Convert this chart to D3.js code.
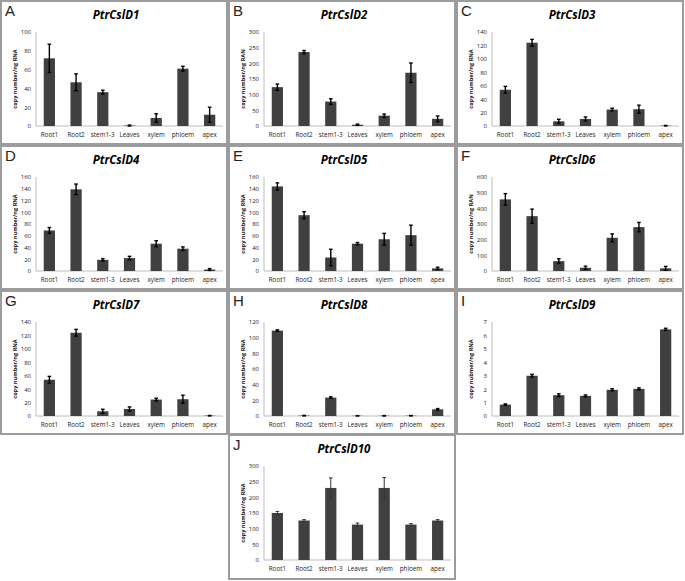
<!DOCTYPE html>
<html><head><meta charset="utf-8">
<script src="https://cdn.jsdelivr.net/npm/d3@7"></script>
<style>body{margin:0;background:#fff}svg{display:block}</style>
</head><body>
<script>
const categories = ["Root1","Root2","stem1-3","Leaves","xylem","phloem","apex"];
const panelLetters = ["A","B","C","D","E","F","G","H","I","J"];
const panelTitles = ["PtrCslD1","PtrCslD2","PtrCslD3","PtrCslD4","PtrCslD5","PtrCslD6","PtrCslD7","PtrCslD8","PtrCslD9","PtrCslD10"];
const yLabels = ["copy number/ng RNA","copy number/ng RAN","copy number/ng RNA","copy number/ng RNA","copy number/ng RNA","copy number/ng RAN","copy number/ng RNA","copy number/ng RNA","copy nubmer/ng RNA","copy number/ng RNA"];
const yMax = [100,300,140,160,160,600,140,120,7,300];
const yStep = [20,50,20,20,20,100,20,20,1,50];
const values = [
  [72,46.5,36,0.5,8.5,61,12],
  [124,236,78,4,33,170,23],
  [54,124,7,10.5,24.5,25,0.5],
  [69,139,19,22,46.5,38,2.5],
  [144,95,23,46.5,54,61,4.5],
  [457,350,63,21,212,280,17],
  [54,124,7,10.5,24.5,25,0.5],
  [109,0.5,23.5,0.3,0.3,0.4,8.5],
  [0.85,3.0,1.55,1.5,1.95,2.02,6.45],
  [150,126,230,113,230,113,126]
];
const errors = [
  [15,9,2,0.5,4.5,2.5,8],
  [10,5,9,2,5,31,9],
  [5,5,3,3,2,6,0.3],
  [5,9,2,3,5,3,1.5],
  [6,6,14,2,10,17,2],
  [37,45,15,10,25,30,12],
  [5,5,3,3,2,6,0.3],
  [1,0.3,1,0.2,0.2,0.2,1],
  [0.05,0.1,0.1,0.07,0.08,0.07,0.08],
  [5,3,32,5,33,3,3]
];
const panelPos = [[1,1],[229,1],[457,1],[1,146],[229,146],[457,146],[1,291],[229,291],[457,291],[229,435]];

const W = 685, H = 581;
const svg = d3.select("body").append("svg").attr("width",W).attr("height",H);
const pw = 226, ph = 143;
const plotL = 35, plotR = 222, plotTop = 31, plotBot = 125;

panelPos.forEach((p,i)=>{
  const g = svg.append("g").attr("transform",`translate(${p[0]},${p[1]})`);
  g.append("rect").attr("x",0).attr("y",0).attr("width",pw).attr("height", i===9?144:ph)
    .attr("fill","#fff").attr("stroke","#9c9c9c").attr("stroke-width",2);
  g.append("text").attr("x",4).attr("y",15).text(panelLetters[i])
    .attr("font-family","Liberation Sans, Arial, sans-serif").attr("font-size",15).attr("fill","#222");
  g.append("text").attr("x",pw/2+2).attr("y",18).attr("text-anchor","middle").text(panelTitles[i])
    .attr("font-family","Open Sans, sans-serif").attr("font-size",11.5).attr("font-weight","bold").attr("font-style","italic").attr("fill","#000");

  const x = d3.scaleBand().domain(categories).range([plotL,plotR]).paddingInner(0.58).paddingOuter(0.29);
  const y = d3.scaleLinear().domain([0,yMax[i]]).range([plotBot,plotTop]);
  const ticks = d3.range(0, yMax[i]+yStep[i]/2, yStep[i]);

  // axes lines
  g.append("line").attr("x1",plotL).attr("x2",plotL).attr("y1",plotTop).attr("y2",plotBot).attr("stroke","#bdbdbd").attr("stroke-width",1);
  g.append("line").attr("x1",plotL).attr("x2",plotR).attr("y1",plotBot).attr("y2",plotBot).attr("stroke","#bdbdbd").attr("stroke-width",1);

  const yAxis = d3.axisLeft(y).tickValues(ticks).tickSize(0).tickPadding(5).tickFormat(d3.format("d"));
  const ya = g.append("g").attr("transform",`translate(${plotL},0)`).call(yAxis);
  ya.select(".domain").remove();
  ya.selectAll("text").attr("font-family","Open Sans, sans-serif").attr("font-size",6).attr("fill","#222");

  const xAxis = d3.axisBottom(x).tickSize(0).tickPadding(7);
  const xa = g.append("g").attr("transform",`translate(0,${plotBot})`).call(xAxis);
  xa.select(".domain").remove();
  xa.selectAll("text").attr("font-family","Open Sans, sans-serif").attr("font-size",6.3).attr("fill","#222");

  g.append("text").attr("transform",`translate(16,${(plotTop+plotBot)/2}) rotate(-90)`)
    .attr("text-anchor","middle").text(yLabels[i])
    .attr("font-family","Open Sans, sans-serif").attr("font-size",5.6).attr("font-weight","bold").attr("fill","#111");

  const data = categories.map((c,k)=>({c, v:values[i][k], e:errors[i][k]}));
  g.selectAll("rect.bar").data(data).join("rect").attr("class","bar")
    .attr("x",d=>x(d.c)).attr("width",x.bandwidth())
    .attr("y",d=>y(d.v)).attr("height",d=>plotBot-y(d.v))
    .attr("fill","#404040");
  const eb = g.selectAll("g.err").data(data).join("g").attr("class","err");
  const ec = i===9 ? "#333" : "#000";
  const ew = i===9 ? 1 : 1.4;
  eb.append("line").attr("x1",d=>x(d.c)+x.bandwidth()/2).attr("x2",d=>x(d.c)+x.bandwidth()/2)
    .attr("y1",d=>y(d.v+d.e)).attr("y2",d=>y(Math.max(0,d.v-d.e))).attr("stroke",ec).attr("stroke-width",ew);
  [1,-1].forEach(s=>{
    eb.append("line").attr("x1",d=>x(d.c)+x.bandwidth()/2-1.8).attr("x2",d=>x(d.c)+x.bandwidth()/2+1.8)
      .attr("y1",d=>y(Math.max(0,d.v+s*d.e))).attr("y2",d=>y(Math.max(0,d.v+s*d.e))).attr("stroke",ec).attr("stroke-width",ew);
  });
});
</script>
</body></html>
